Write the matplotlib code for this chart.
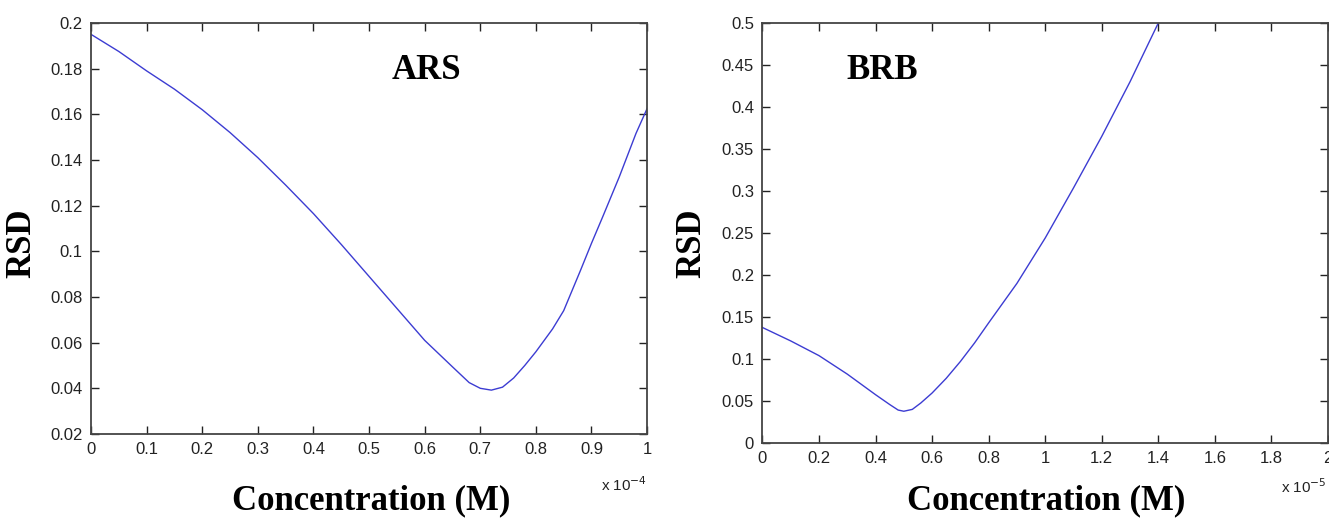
import matplotlib.pyplot as plt
import numpy as np
from matplotlib.ticker import FuncFormatter

# ARS panel, x in units of 1e-4 M
ars_conc = [0.0, 0.05, 0.1, 0.15, 0.2, 0.25, 0.3, 0.35, 0.4, 0.45, 0.5, 0.55,
            0.6, 0.65, 0.68, 0.7, 0.72, 0.74, 0.76, 0.78, 0.8, 0.83, 0.85, 0.88,
            0.9, 0.92, 0.95, 0.98, 1.0]
ars_rsd = [0.195, 0.1875, 0.179, 0.171, 0.162, 0.152, 0.141, 0.129, 0.1165, 0.103,
           0.089, 0.075, 0.061, 0.0494, 0.0425, 0.0400, 0.0392, 0.0405, 0.0445, 0.050,
           0.0560, 0.0660, 0.0740, 0.0915, 0.1035, 0.1150, 0.1326, 0.1516, 0.1625]

# BRB panel, x in units of 1e-5 M
brb_conc = [0.0, 0.1, 0.2, 0.3, 0.4, 0.45, 0.48, 0.5, 0.53, 0.56, 0.6, 0.65,
            0.7, 0.75, 0.8, 0.9, 1.0, 1.1, 1.2, 1.3, 1.4, 1.45]
brb_rsd = [0.1375, 0.1215, 0.104, 0.082, 0.0575, 0.0458, 0.0392, 0.0378, 0.040,
           0.0476, 0.0595, 0.077, 0.097, 0.119, 0.143, 0.190, 0.244, 0.3036,
           0.365, 0.430, 0.500, 0.535]

plt.rcParams['font.family'] = ['Liberation Sans', 'DejaVu Sans']
line_color = '#3c3cd2'
serif = ['Liberation Serif', 'DejaVu Serif']

fig = plt.figure(figsize=(13.29, 5.24), dpi=100)
ax1 = fig.add_axes([0.0685, 0.1718, 0.4184, 0.7844])
ax2 = fig.add_axes([0.5737, 0.1546, 0.4255, 0.8015])


def style(ax):
    ax.tick_params(direction='in', top=True, right=True, length=6, width=1,
                   labelsize=12, colors='#222222', pad=6)
    for s in ax.spines.values():
        s.set_linewidth(1.3)
        s.set_color('#444444')
    fmt = FuncFormatter(lambda v, p: '%g' % round(v, 4))
    ax.xaxis.set_major_formatter(fmt)
    ax.yaxis.set_major_formatter(fmt)


ax1.plot(ars_conc, ars_rsd, color=line_color, lw=1.0)
ax1.set_xlim(0, 1)
ax1.set_ylim(0.02, 0.2)
ax1.set_xticks(np.arange(0, 1.01, 0.1))
ax1.set_yticks(np.arange(0.02, 0.201, 0.02))
style(ax1)
ax1.set_xlabel('Concentration (M)', fontsize=25, fontweight='bold', family=serif)
ax1.xaxis.set_label_coords(0.504, -0.122)
ax1.set_ylabel('RSD', fontsize=25, fontweight='bold', family=serif)
ax1.yaxis.set_label_coords(-0.095, 0.465)
ax1.text(0.604, 0.179, 'ARS', fontsize=25, fontweight='bold', family=serif,
         ha='center', va='center')
ax1.text(1.0, -0.124, 'x 10$^{-4}$', transform=ax1.transAxes, fontsize=11,
         ha='right', va='center', color='#222222')

ax2.plot(brb_conc, brb_rsd, color=line_color, lw=1.0)
ax2.set_xlim(0, 2)
ax2.set_ylim(0, 0.5)
ax2.set_xticks(np.arange(0, 2.01, 0.2))
ax2.set_yticks(np.arange(0, 0.501, 0.05))
style(ax2)
ax2.set_xlabel('Concentration (M)', fontsize=25, fontweight='bold', family=serif)
ax2.xaxis.set_label_coords(0.501, -0.098)
ax2.set_ylabel('RSD', fontsize=25, fontweight='bold', family=serif)
ax2.yaxis.set_label_coords(-0.096, 0.476)
ax2.text(0.423, 0.444, 'BRB', fontsize=25, fontweight='bold', family=serif,
         ha='center', va='center')
ax2.text(0.998, -0.105, 'x 10$^{-5}$', transform=ax2.transAxes, fontsize=11,
         ha='right', va='center', color='#222222')

fig.savefig('out.png', dpi=100)
